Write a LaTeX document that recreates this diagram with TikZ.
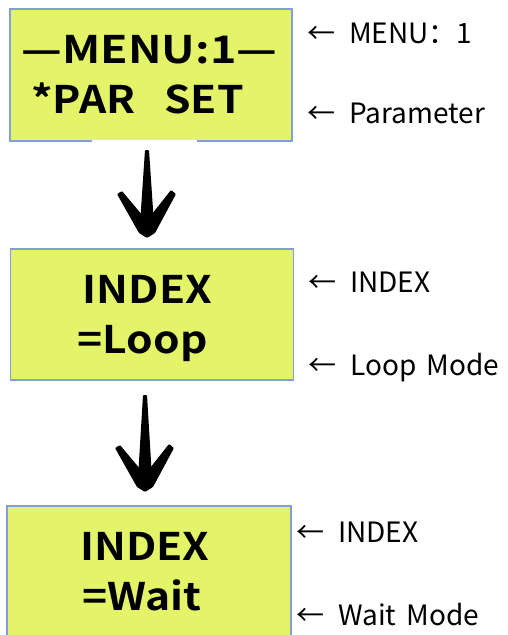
\documentclass[tikz,border=0pt]{standalone}
\usepackage{fontspec}
\setmainfont{Noto Sans CJK SC}
\newfontfamily\boxfont{Noto Sans CJK SC}[BoldFont={Noto Sans CJK SC Bold}]
\usetikzlibrary{calc}
\definecolor{lcdfill}{RGB}{227,244,104}
\definecolor{lcdline}{RGB}{130,160,215}
\newcommand{\larr}{←\hspace{14pt}}
\newcommand{\brusharrow}[2]{%
  \fill[black, rounded corners=1pt] ($(#1)+(-2,0)$) -- ($(#1)+(2,0)$) -- ($(#2)+(7,-14)$) -- ($(#2)+(1,-1)$) -- ($(#2)+(-1,-1)$) -- ($(#2)+(-7,-14)$) -- cycle;
  \fill[black, rounded corners=1pt] ($(#2)+(-30,-44)$) -- ($(#2)+(-25,-47)$) -- ($(#2)+(6,-10)$) -- ($(#2)+(0,0)$) -- ($(#2)+(-8,-5)$) -- cycle;
  \fill[black, rounded corners=1pt] ($(#2)+(24,-48)$) -- ($(#2)+(29,-44)$) -- ($(#2)+(8,-5)$) -- ($(#2)+(0,0)$) -- ($(#2)+(-6,-10)$) -- cycle;
}
\tikzset{
  lcd/.style={draw=lcdline, line width=1.5pt, fill=lcdfill, inner sep=0pt},
  lcdtxt/.style={font=\boxfont\bfseries\fontsize{38}{38}\selectfont, inner sep=0pt, anchor=base},
  lbl/.style={font=\fontsize{28}{28}\selectfont, inner sep=0pt, anchor=base west},
}
\begin{document}
\begin{tikzpicture}[x=1pt,y=-1pt]
\useasboundingbox (0,0) rectangle (508,635);
% boxes
\node[lcd, minimum width=282pt, minimum height=132pt] (b1) at (151,75) {};
\node[lcd, minimum width=283pt, minimum height=131pt] (b2) at (152,314.5) {};
\node[lcd, minimum width=284pt, minimum height=140pt] (b3) at (149,576) {};
\draw[white, line width=2pt] (92,141) -- (197,141);
% box texts
\node[lcdtxt] (t1a) at (149.5,63) {\scalebox{1.18}[1]{—MENU:1—}};
\node[lcdtxt] (t1b) at (137.5,113) {\scalebox{1.12}[1]{*PAR\ \ \ SET}};
\node[lcdtxt] (t2a) at (147.5,303) {\scalebox{1.12}[1]{INDEX}};
\node[lcdtxt] (t2b) at (142.5,353) {\scalebox{1.12}[1]{=Loop}};
\node[lcdtxt] (t3a) at (145,560) {\scalebox{1.12}[1]{INDEX}};
\node[lcdtxt] (t3b) at (142,610) {\scalebox{1.12}[1]{=Wait}};
% labels
\node[lbl] (l1a) at (307,43) {\larr MENU：1};
\node[lbl] (l1b) at (307,123) {\larr Parameter};
\node[lbl] (l2a) at (308,292) {\larr INDEX};
\node[lbl] (l2b) at (308,375) {\larr Loop\hspace{4pt} Mode};
\node[lbl] (l3a) at (296,542) {\larr INDEX};
\node[lbl] (l3b) at (296,625) {\larr Wait\hspace{4pt} Mode};
% arrows
\coordinate (a1s) at (147,150);
\coordinate (a1e) at (147,238);
\coordinate (a2s) at (145,395);
\coordinate (a2e) at (145,492);
\brusharrow{a1s}{a1e}
\brusharrow{a2s}{a2e}
\end{tikzpicture}
\end{document}
